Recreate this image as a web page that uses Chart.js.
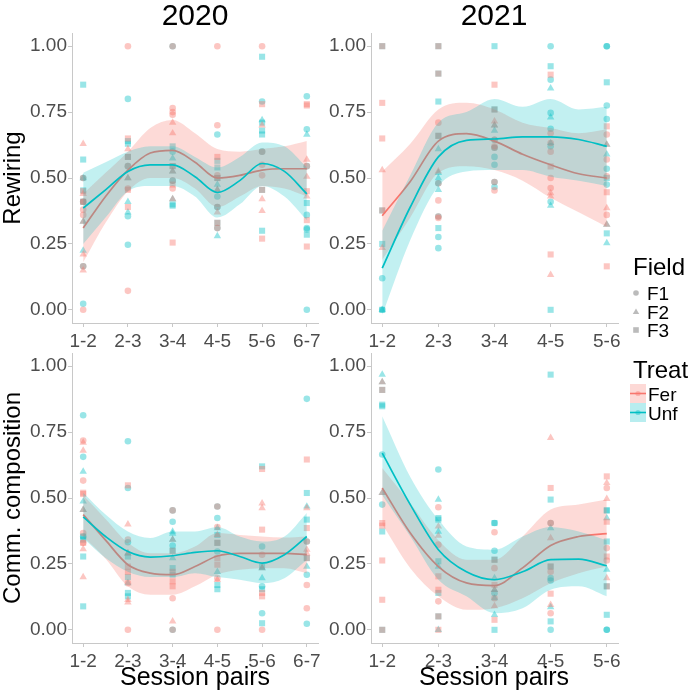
<!DOCTYPE html>
<html><head><meta charset="utf-8">
<script src="https://cdn.jsdelivr.net/npm/chart.js@4"></script>
<style>
body{margin:0;background:#fff;width:691px;height:694px;position:relative;overflow:hidden;font-family:"Liberation Sans",Arial,sans-serif}
canvas{position:absolute}
.t{position:absolute;white-space:nowrap;color:#000;line-height:1}
</style></head><body>
<canvas id="c1"></canvas><canvas id="c2"></canvas><canvas id="c3"></canvas><canvas id="c4"></canvas>
<div class="t" style="left:195px;top:0px;font-size:30px;transform:translateX(-50%)">2020</div>
<div class="t" style="left:494px;top:0px;font-size:30px;transform:translateX(-50%)">2021</div>
<div class="t" style="left:195px;top:664px;font-size:25px;transform:translateX(-50%)">Session pairs</div>
<div class="t" style="left:494px;top:664px;font-size:25px;transform:translateX(-50%)">Session pairs</div>
<div class="t" style="left:12px;top:178px;font-size:24px;transform:translate(-50%,-50%) rotate(-90deg)">Rewiring</div>
<div class="t" style="left:12px;top:498px;font-size:24px;transform:translate(-50%,-50%) rotate(-90deg)">Comm. composition</div>
<div class="t" style="left:633px;top:255px;font-size:24px">Field</div>
<svg style="position:absolute;left:630px;top:284px" width="14" height="56">
<circle cx="6" cy="9" r="2.8" fill="rgba(120,120,120,0.5)"/>
<polygon points="6,24.5 9.2,30 2.8,30" fill="rgba(120,120,120,0.5)"/>
<rect x="3.2" y="43.2" width="5.6" height="5.6" fill="rgba(120,120,120,0.5)"/>
</svg>
<div class="t" style="left:647px;top:284px;font-size:19px">F1</div>
<div class="t" style="left:647px;top:303px;font-size:19px">F2</div>
<div class="t" style="left:647px;top:321px;font-size:19px">F3</div>
<div class="t" style="left:633px;top:358px;font-size:24px">Treat</div>
<svg style="position:absolute;left:630px;top:384px" width="16" height="38">
<rect x="0" y="0" width="16" height="19" fill="rgba(248,118,109,0.28)"/>
<rect x="0" y="19" width="16" height="19" fill="rgba(0,191,196,0.28)"/>
<line x1="0" y1="9.5" x2="16" y2="9.5" stroke="#F8766D" stroke-width="1.6"/>
<line x1="0" y1="28.5" x2="16" y2="28.5" stroke="#00BFC4" stroke-width="1.6"/>
<circle cx="8" cy="9.5" r="2.6" fill="rgba(248,118,109,0.4)"/>
<circle cx="8" cy="28.5" r="2.6" fill="rgba(0,191,196,0.4)"/>
</svg>
<div class="t" style="left:648px;top:385px;font-size:19px">Fer</div>
<div class="t" style="left:648px;top:404px;font-size:19px">Unf</div>
<script>
// ---- categories / ticks ----
const PAIRS_2020 = ["1-2","2-3","3-4","4-5","5-6","6-7"];
const PAIRS_2021 = ["1-2","2-3","3-4","4-5","5-6"];
const Y_TICKS = [0, 0.25, 0.5, 0.75, 1];

// ---- observed points: one list of values per session pair ----
// Rewiring 2020
const R20_Fer_F1 = [[0.36,0.38,0.50,0.41,0.165,0.0],[1.0,0.545,0.072,0.46],[1.0,0.765,0.75,0.74,0.49,0.46],[1.0,0.70,0.51,0.39,0.31],[1.0,0.60,0.55,0.51],[0.545]];
const R20_Fer_F2 = [[0.63,0.335,0.21,0.15,0.44],[0.61,0.50],[0.71,0.67,0.525,0.42],[0.37,0.455],[0.42,0.375,0.70],[0.57,0.505,0.43]];
const R20_Fer_F3 = [[0.41,0.45],[0.65,0.58,0.39,0.455],[0.545,0.475,0.255],[0.58,0.50,0.33],[0.78,0.455,0.27],[0.78,0.775,0.45,0.34,0.24]];
const R20_Unf_F1 = [[0.50,0.41,0.165,0.023],[0.80,0.355,0.247,0.545],[1.0,0.60,0.49],[0.665,0.43,0.39,0.31],[0.79,0.60],[0.81,0.685,0.545,0.36,0.31,0.305,0.0]];
const R20_Unf_F2 = [[0.50,0.225,0.335],[0.41,0.37,0.50],[0.575,0.525,0.42],[0.475,0.28,0.455],[0.72],[0.665]];
const R20_Unf_F3 = [[0.854,0.57,0.453,0.41],[0.64,0.63,0.58],[0.62,0.545,0.40,0.395],[0.565,0.54,0.50,0.33],[0.96,0.71,0.68,0.665,0.455,0.30],[0.405,0.285]];
// Rewiring 2021
const R21_Fer_F1 = [[],[0.71,0.48,0.415,0.354,0.348],[0.645,0.62,0.615,0.485,0.453],[0.67,0.633,0.60,0.50,0.462],[0.665,0.506,0.36,0.57]];
const R21_Fer_F2 = [[0.53,0.235],[0.525],[0.715,0.70],[0.443,0.43,0.133],[0.627,0.386,0.323]];
const R21_Fer_F3 = [[1.0,0.785,0.65,0.377],[1.0,0.896,0.66],[0.854,0.76],[0.892,0.544,0.21],[0.696,0.446,0.165]];
const R21_Unf_F1 = [[0.12,0.0],[0.48,0.354,0.276,0.234],[0.645,0.615,0.58,0.55,0.485,0.466],[1.0,0.873,0.747,0.687,0.62,0.41],[1.0,1.0,0.775,0.724,0.535,0.475]];
const R21_Unf_F2 = [[0.0],[0.61,0.52,0.50,0.455],[0.70,0.68],[0.84,0.73,0.633,0.395],[0.627,0.59,0.323,0.253]];
const R21_Unf_F3 = [[1.0,0.377,0.25,0.0],[1.0,0.896,0.79,0.66,0.31],[1.0,0.76],[0.924,0.0],[0.863,0.29,0.5]];
// Comm. composition 2020
const C20_Fer_F1 = [[0.718,0.566,0.367,0.33],[0.342,0.177,0.0],[0.453,0.12,0.0],[0.468,0.39,0.196,0.0],[0.285,0.0],[0.335,0.17,0.082]];
const C20_Fer_F2 = [[0.71,0.68,0.306,0.20,0.455],[0.40,0.114,0.104,0.29],[0.342,0.032],[0.36,0.19],[0.48,0.462,0.234],[0.462,0.304,0.29]];
const C20_Fer_F3 = [[0.52,0.515,0.33],[0.548,0.24,0.22],[0.22,0.184,0.165,0.30],[0.33,0.272,0.247],[0.61,0.38,0.14,0.127],[0.646,0.386,0.272]];
const C20_Unf_F1 = [[0.814,0.656,0.354],[0.715,0.538,0.332],[0.453,0.41,0.32,0.0],[0.468,0.424,0.297],[0.316,0.165,0.063],[0.876,0.335,0.209,0.023]];
const C20_Unf_F2 = [[0.60,0.487,0.455],[0.29,0.177],[0.373,0.365,0.272,0.342],[0.386,0.22],[0.196,0.234],[0.468,0.24]];
const C20_Unf_F3 = [[0.354,0.342,0.278,0.089],[0.278,0.20,0.14,0.127],[0.234,0.209,0.30],[0.33,0.36,0.17,0.154],[0.62,0.154,0.025,0.24],[0.519,0.418,0.272]];
// Comm. composition 2021
const C21_Fer_F1 = [[],[0.465,0.323,0.108],[0.37,0.234,0.12],[0.405,0.063,0.22],[0.538,0.31,0.263]];
const C21_Fer_F2 = [[0.94,0.52],[0.392,0.357],[0.152,0.09],[0.728,0.348,0.095],[0.557,0.497,0.196]];
const C21_Fer_F3 = [[0.91,0.405,0.395,0.263,0.114,0.0],[0.203,0.152,0.051,0.0],[0.266,0.17,0.038],[0.538,0.24,0.137],[0.582,0.41,0.165,0.278]];
const C21_Unf_F1 = [[0.665,0.475],[0.608],[0.405,0.30,0.139],[0.405,0.196,0.187,0.0],[0.0,0.0]];
const C21_Unf_F2 = [[0.968,0.94,0.52],[0.494,0.373,0.24,0.0],[0.196,0.152,0.12,0.057],[0.386,0.086],[0.424,0.228]];
const C21_Unf_F3 = [[0.91,0.854,0.848,0.373,0.0],[0.424,0.418,0.26,0.14,0.051],[0.405,0.266,0.0],[0.968,0.494,0.032,0.24],[0.453,0.453,0.335,0.165,0.057]];

// ---- smoothed fits ----
const SX_2020 = [0,0.5,1,1.5,2,2.5,3,3.5,4,4.5,5];
const SX_2021 = [0,0.5,1,1.5,2,2.5,3,3.5,4];
const R20_Fer_fit = [0.31,0.43,0.53,0.595,0.605,0.56,0.50,0.51,0.53,0.535,0.535];
const R20_Fer_lo  = [0.18,0.33,0.45,0.50,0.50,0.46,0.39,0.43,0.47,0.46,0.43];
const R20_Fer_hi  = [0.44,0.52,0.60,0.69,0.72,0.67,0.61,0.60,0.61,0.62,0.64];
const R20_Unf_fit = [0.386,0.455,0.525,0.55,0.55,0.505,0.445,0.49,0.555,0.525,0.44];
const R20_Unf_lo  = [0.25,0.35,0.45,0.47,0.47,0.43,0.35,0.40,0.47,0.43,0.34];
const R20_Unf_hi  = [0.52,0.56,0.60,0.62,0.62,0.58,0.54,0.58,0.635,0.62,0.54];
const R21_Fer_fit = [0.357,0.487,0.64,0.668,0.64,0.59,0.55,0.516,0.50];
const R21_Fer_lo  = [0.19,0.35,0.52,0.545,0.53,0.49,0.425,0.37,0.315];
const R21_Fer_hi  = [0.525,0.63,0.76,0.785,0.76,0.71,0.69,0.67,0.685];
const R21_Unf_fit = [0.158,0.39,0.58,0.643,0.648,0.656,0.656,0.646,0.62];
const R21_Unf_lo  = [-0.02,0.265,0.47,0.525,0.53,0.53,0.505,0.49,0.47];
const R21_Unf_hi  = [0.30,0.51,0.71,0.75,0.80,0.77,0.80,0.76,0.77];
const C20_Fer_fit = [0.437,0.34,0.247,0.215,0.209,0.24,0.28,0.29,0.29,0.29,0.285];
const C20_Fer_lo  = [0.354,0.27,0.165,0.133,0.133,0.165,0.21,0.228,0.234,0.234,0.215];
const C20_Fer_hi  = [0.51,0.42,0.33,0.29,0.29,0.316,0.367,0.36,0.354,0.35,0.354];
const C20_Unf_fit = [0.428,0.354,0.297,0.276,0.281,0.294,0.30,0.278,0.253,0.285,0.354];
const C20_Unf_lo  = [0.348,0.272,0.22,0.20,0.20,0.215,0.20,0.19,0.177,0.196,0.266];
const C20_Unf_hi  = [0.52,0.437,0.373,0.348,0.373,0.373,0.39,0.354,0.335,0.354,0.443];
const C21_Fer_fit = [0.538,0.367,0.24,0.178,0.168,0.235,0.32,0.354,0.365];
const C21_Fer_lo  = [0.40,0.234,0.127,0.076,0.082,0.12,0.177,0.215,0.24];
const C21_Fer_hi  = [0.614,0.48,0.34,0.266,0.266,0.354,0.456,0.475,0.494];
const C21_Unf_fit = [0.67,0.475,0.304,0.22,0.19,0.22,0.266,0.268,0.243];
const C21_Unf_lo  = [0.51,0.354,0.19,0.127,0.063,0.082,0.152,0.165,0.127];
const C21_Unf_hi  = [0.81,0.58,0.418,0.316,0.304,0.354,0.39,0.373,0.34];

// ---- styling ----
const COL = {Fer:"#F8766D", Unf:"#00BFC4"};
const PT_COL = {Fer:"rgba(248,118,109,0.42)", Unf:"rgba(0,191,196,0.4)"};
const BAND_COL = {Fer:"rgba(248,118,109,0.27)", Unf:"rgba(0,191,196,0.24)"};
const SHAPES = [["circle",3.3],["triangle",4.3],["rect",4.3]];
const AXIS_COL = "#c8c8c8";
const TICK_FONT = {family:"'Liberation Sans', Arial, sans-serif", size:19};
const YW = 70, XH = 36, PADT = 10, PADR = 26;

function toXY(xs, ys){ return xs.map((x,i)=>({x:x, y:ys[i]})); }
function pointsOf(lists){ const out=[]; lists.forEach((vals,i)=>vals.forEach(v=>out.push({x:i,y:v}))); return out; }

function panel(id, left, top, w, h, cats, xpad, pts, sx, fits){
  const cv = document.getElementById(id);
  cv.width = YW + w + PADR; cv.height = PADT + h + XH;
  cv.style.left = (left - YW) + "px"; cv.style.top = (top - PADT) + "px";
  cv.style.width = cv.width + "px"; cv.style.height = cv.height + "px";
  const ds = [];
  ["Fer","Unf"].forEach(tr=>{
    pts[tr].forEach((lists,fi)=>{
      ds.push({type:"line", data:pointsOf(lists), showLine:false, order:20,
        pointStyle:SHAPES[fi][0], pointRadius:SHAPES[fi][1], pointBackgroundColor:PT_COL[tr],
        pointBorderColor:"rgba(0,0,0,0)", pointBorderWidth:0, pointHoverRadius:SHAPES[fi][1]});
    });
  });
  let ord = 10;
  ["Fer","Unf"].forEach(tr=>{
    const f = fits[tr];
    ds.push({type:"line", data:toXY(sx,f.hi), fill:"+1", backgroundColor:BAND_COL[tr], borderColor:"rgba(0,0,0,0)", borderWidth:0, pointRadius:0, cubicInterpolationMode:"monotone", order:ord});
    ds.push({type:"line", data:toXY(sx,f.lo), fill:false, borderColor:"rgba(0,0,0,0)", borderWidth:0, pointRadius:0, cubicInterpolationMode:"monotone", order:ord});
    ds.push({type:"line", data:toXY(sx,f.fit), fill:false, borderColor:COL[tr], borderWidth:1.7, pointRadius:0, cubicInterpolationMode:"monotone", order:ord-1});
    ord -= 2;
  });
  new Chart(cv, {
    type:"line",
    data:{datasets:ds},
    options:{
      responsive:false, animation:false, devicePixelRatio:1,
      layout:{padding:{top:PADT,right:PADR,left:0,bottom:0}},
      plugins:{legend:{display:false}, tooltip:{enabled:false}},
      events:[],
      scales:{
        x:{type:"linear", min:-xpad, max:cats.length-1+xpad,
          afterBuildTicks:(s)=>{ s.ticks = cats.map((c,i)=>({value:i})); },
          afterFit:(s)=>{ s.height = XH; s.paddingLeft = 0; s.paddingRight = 0; },
          ticks:{callback:(v)=>cats[v], font:TICK_FONT, color:"#4d4d4d", padding:3, maxRotation:0, autoSkip:false},
          grid:{drawOnChartArea:false, drawTicks:true, tickLength:4, color:AXIS_COL},
          border:{display:true, color:AXIS_COL, width:1}},
        y:{type:"linear", min:-0.05, max:1.05,
          afterBuildTicks:(s)=>{ s.ticks = Y_TICKS.map(v=>({value:v})); },
          afterFit:(s)=>{ s.width = YW; s.paddingTop = 0; s.paddingBottom = 0; },
          ticks:{callback:(v)=>Number(v).toFixed(2), font:TICK_FONT, color:"#4d4d4d", padding:1},
          grid:{drawOnChartArea:false, drawTicks:true, tickLength:4, color:AXIS_COL},
          border:{display:true, color:AXIS_COL, width:1}}
      }
    }
  });
}

panel("c1", 72, 33, 246, 290, PAIRS_2020, 0.25,
  {Fer:[R20_Fer_F1,R20_Fer_F2,R20_Fer_F3], Unf:[R20_Unf_F1,R20_Unf_F2,R20_Unf_F3]}, SX_2020,
  {Fer:{fit:R20_Fer_fit,lo:R20_Fer_lo,hi:R20_Fer_hi}, Unf:{fit:R20_Unf_fit,lo:R20_Unf_lo,hi:R20_Unf_hi}});
panel("c2", 371, 33, 247, 290, PAIRS_2021, 0.2,
  {Fer:[R21_Fer_F1,R21_Fer_F2,R21_Fer_F3], Unf:[R21_Unf_F1,R21_Unf_F2,R21_Unf_F3]}, SX_2021,
  {Fer:{fit:R21_Fer_fit,lo:R21_Fer_lo,hi:R21_Fer_hi}, Unf:{fit:R21_Unf_fit,lo:R21_Unf_lo,hi:R21_Unf_hi}});
panel("c3", 72, 353, 246, 290, PAIRS_2020, 0.25,
  {Fer:[C20_Fer_F1,C20_Fer_F2,C20_Fer_F3], Unf:[C20_Unf_F1,C20_Unf_F2,C20_Unf_F3]}, SX_2020,
  {Fer:{fit:C20_Fer_fit,lo:C20_Fer_lo,hi:C20_Fer_hi}, Unf:{fit:C20_Unf_fit,lo:C20_Unf_lo,hi:C20_Unf_hi}});
panel("c4", 371, 353, 247, 290, PAIRS_2021, 0.2,
  {Fer:[C21_Fer_F1,C21_Fer_F2,C21_Fer_F3], Unf:[C21_Unf_F1,C21_Unf_F2,C21_Unf_F3]}, SX_2021,
  {Fer:{fit:C21_Fer_fit,lo:C21_Fer_lo,hi:C21_Fer_hi}, Unf:{fit:C21_Unf_fit,lo:C21_Unf_lo,hi:C21_Unf_hi}});
</script>
</body></html>
